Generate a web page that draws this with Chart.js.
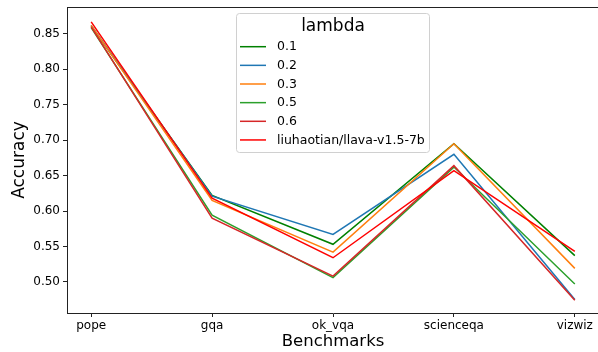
<!DOCTYPE html>
<html>
<head>
<meta charset="utf-8">
<script src="https://cdn.jsdelivr.net/npm/chart.js@4.4.1/dist/chart.umd.min.js"></script>
<style>
  html, body { margin: 0; padding: 0; background: #fff; overflow: hidden; }
  #wrap { width: 598px; height: 352px; overflow: hidden; position: relative; }
  #wrap canvas { position: absolute; left: 0; top: 0; }
</style>
</head>
<body>
<div id="wrap"><canvas id="c" width="600" height="352" style="width:600px;height:352px"></canvas></div>
<script>
const categories = ["pope", "gqa", "ok_vqa", "scienceqa", "vizwiz"];
const seriesNames = ["0.1", "0.2", "0.3", "0.5", "0.6", "liuhaotian/llava-v1.5-7b"];
const s01   = [0.861, 0.622, 0.553, 0.695, 0.537];
const s02   = [0.862, 0.621, 0.567, 0.680, 0.475];
const s03   = [0.862, 0.615, 0.542, 0.695, 0.519];
const s05   = [0.859, 0.594, 0.506, 0.662, 0.497];
const s06   = [0.860, 0.590, 0.508, 0.664, 0.474];
const llava = [0.867, 0.618, 0.534, 0.657, 0.543];
const yTicks = [0.50, 0.55, 0.60, 0.65, 0.70, 0.75, 0.80, 0.85];
const legendTitle = "lambda";
const xTitle = "Benchmarks";
const yTitle = "Accuracy";

const seriesValues = [s01, s02, s03, s05, s06, llava];
const colors = ["#008000", "#1f77b4", "#ff7f0e", "#2ca02c", "#d62728", "#ff0000"];
const FONT = "'DejaVu Sans', sans-serif";

const datasets = seriesValues.map((vals, i) => ({
  label: seriesNames[i],
  data: vals.map((v, j) => ({ x: j, y: v })),
  borderColor: colors[i],
  backgroundColor: colors[i],
  borderWidth: 1.5,
  pointRadius: 0,
  tension: 0,
  fill: false,
  order: seriesValues.length - i
}));

const framePlugin = {
  id: 'frame',
  afterDraw(chart) {
    const ctx = chart.ctx;
    const a = chart.chartArea;
    ctx.save();
    // top spine
    ctx.strokeStyle = '#222';
    ctx.lineWidth = 1;
    ctx.beginPath();
    ctx.moveTo(a.left, a.top + 0.5);
    ctx.lineTo(a.right, a.top + 0.5);
    ctx.stroke();

    // legend
    const bx = 236, by = 13, bw = 193, bh = 139;
    ctx.globalAlpha = 0.8;
    ctx.fillStyle = '#fff';
    ctx.beginPath();
    ctx.roundRect(bx + 0.5, by + 0.5, bw, bh, 3);
    ctx.fill();
    ctx.globalAlpha = 1;
    ctx.strokeStyle = '#d0d0d0';
    ctx.lineWidth = 1;
    ctx.stroke();

    ctx.fillStyle = '#000';
    ctx.font = "17px " + FONT;
    ctx.textAlign = 'center';
    ctx.textBaseline = 'middle';
    ctx.fillText(legendTitle, bx + bw / 2 + 0.5, by + 14);

    ctx.font = "12.5px " + FONT;
    ctx.textAlign = 'left';
    chart.data.datasets.forEach((ds, i) => {
      const y = by + 33.7 + i * 18.65;
      ctx.strokeStyle = ds.borderColor;
      ctx.lineWidth = 1.5;
      ctx.beginPath();
      ctx.moveTo(240, y);
      ctx.lineTo(266, y);
      ctx.stroke();
      ctx.fillStyle = '#000';
      ctx.fillText(ds.label, 277, y + 0.5);
    });
    ctx.restore();
  }
};

new Chart(document.getElementById('c'), {
  type: 'line',
  data: { datasets },
  options: {
    responsive: false,
    animation: false,
    layout: { padding: { top: 7, right: 1, left: 0, bottom: 0 } },
    plugins: { legend: { display: false }, tooltip: { enabled: false } },
    scales: {
      x: {
        type: 'linear',
        min: -0.2,
        max: 4.2,
        afterBuildTicks(axis) { axis.ticks = categories.map((c, i) => ({ value: i })); },
        afterFit(axis) { axis.height = 39; axis.paddingLeft = 0; axis.paddingRight = 0; },
        ticks: {
          callback: (v) => categories[v] !== undefined ? categories[v] : '',
          color: '#000',
          font: { family: FONT, size: 12 },
          padding: 2,
          maxRotation: 0,
          autoSkip: false
        },
        grid: { drawOnChartArea: false, drawTicks: true, tickLength: 4, color: '#222' },
        border: { display: true, color: '#222', width: 1 },
        title: { display: true, text: xTitle, color: '#000', font: { family: FONT, size: 16.5 }, padding: { top: 0, bottom: 0 } }
      },
      y: {
        min: 0.456,
        max: 0.888,
        afterBuildTicks(axis) { axis.ticks = yTicks.map(v => ({ value: v })); },
        afterFit(axis) { axis.width = 67; axis.paddingTop = 0; axis.paddingBottom = 0; },
        ticks: {
          callback: (v) => Number(v).toFixed(2),
          color: '#000',
          font: { family: FONT, size: 12 },
          padding: 3
        },
        grid: { drawOnChartArea: false, drawTicks: true, tickLength: 4, color: '#222' },
        border: { display: true, color: '#222', width: 1 },
        title: { display: true, text: yTitle, color: '#000', font: { family: FONT, size: 17 }, padding: { top: 9, bottom: 0 } }
      }
    }
  },
  plugins: [framePlugin]
});
</script>
</body>
</html>
